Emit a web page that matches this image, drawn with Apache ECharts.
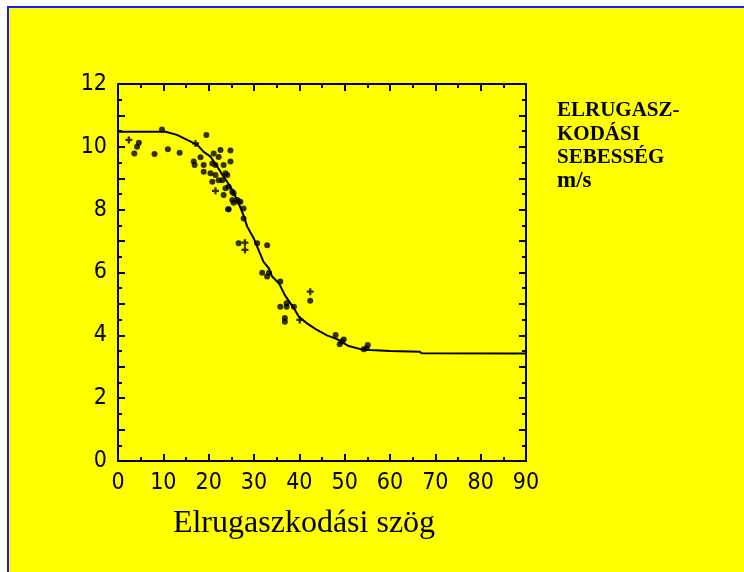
<!DOCTYPE html>
<html>
<head>
<meta charset="utf-8">
<script src="https://cdn.jsdelivr.net/npm/echarts@6/dist/echarts.min.js"></script>
<style>html,body{margin:0;padding:0;background:#fff}#c{width:744px;height:572px}</style>
</head>
<body>
<div id="c"></div>
<script>
// Fitted curve
var curveX = [0, 10.5, 13.0, 15.6, 17.5, 18.9, 20.4, 21.9, 23.3, 24.8, 26.3, 27.6, 28.5, 29.9, 31.0, 32.1, 33.3, 34.0, 35.5, 36.8, 38.8, 39.9, 41.7, 43.9, 46.1, 48.3, 50.9, 53.5, 55.7, 60, 66.5, 67, 90];
var curveY = [10.48, 10.48, 10.38, 10.2, 10.06, 9.84, 9.69, 9.37, 9.05, 8.73, 8.31, 7.85, 7.46, 7.1, 6.72, 6.34, 6.13, 5.87, 5.66, 5.28, 4.86, 4.59, 4.38, 4.17, 4.0, 3.88, 3.66, 3.56, 3.53, 3.5, 3.48, 3.43, 3.42];
// Measured points (dots)
var dotX = [3.6, 4.2, 4.6, 8.05, 9.7, 11.0, 13.6, 19.5, 16.7, 18.2, 16.9, 18.9, 21.1, 22.6, 24.8, 24.8, 23.3, 21.5, 20.8, 22.2, 20.4, 21.5, 23.7, 24.1, 20.8, 22.2, 23.0, 23.7, 24.4, 23.3, 25.2, 25.5, 25.2, 26.3, 27.0, 27.7, 24.4, 27.7, 26.6, 25.5, 24.3, 26.6, 30.7, 32.9, 31.8, 32.9, 33.3, 35.8, 35.8, 37.2, 37.2, 38.8, 36.8, 36.8, 42.4, 48.0, 48.9, 49.8, 49.4, 55.1, 54.8, 54.2, 18.9];
var dotY = [9.79, 10.0, 10.13, 9.77, 10.55, 9.92, 9.81, 10.38, 9.53, 9.67, 9.42, 9.42, 9.79, 9.9, 9.88, 9.53, 9.42, 9.42, 9.47, 9.68, 9.16, 9.1, 9.16, 9.1, 8.89, 8.94, 8.94, 8.68, 8.73, 8.47, 8.57, 8.52, 8.31, 8.31, 8.25, 8.04, 8.01, 7.72, 8.25, 8.22, 8.01, 6.93, 6.93, 6.87, 5.99, 5.87, 5.99, 5.71, 4.91, 5.02, 4.91, 4.91, 4.55, 4.43, 5.1, 4.01, 3.72, 3.87, 3.8, 3.69, 3.59, 3.56, 9.21];
// Measured points (crosses)
var crossX = [2.4, 17.1, 21.5, 28.0, 28.0, 42.4, 40.1];
var crossY = [10.22, 10.11, 8.6, 6.95, 6.72, 5.39, 4.49];
// Tick labels
var xTicks = [0, 10, 20, 30, 40, 50, 60, 70, 80, 90];
var yTicks = [0, 2, 4, 6, 8, 10, 12];
var xTitle = 'Elrugaszkodási szög';
var yTitleLines = ['ELRUGASZ-', 'KODÁSI', 'SEBESSÉG'];
var yUnit = 'm/s';

function zip(a, b) { return a.map(function (v, i) { return [v, b[i]]; }); }

var tickFont = "'Liberation Sans Narrow','Arial Narrow','DejaVu Sans Condensed',sans-serif";
var axisCommon = {
  type: 'value',
  axisLine: { show: true, onZero: false, lineStyle: { color: '#000', width: 2 } },
  axisTick: { show: true, inside: true, length: 7, lineStyle: { color: '#000', width: 2 } },
  minorTick: { show: true, splitNumber: 2, length: 4, lineStyle: { color: '#000', width: 2 } },
  splitLine: { show: false },
  minorSplitLine: { show: false }
};
function ax(extra) { return Object.assign({}, JSON.parse(JSON.stringify(axisCommon)), extra); }

var chart = echarts.init(document.getElementById('c'), null, { renderer: 'canvas' });
var option = {
  backgroundColor: '#ffffff',
  animation: false,
  graphic: {
    elements: [
      { type: 'rect', z: -100, shape: { x: 7, y: 6, width: 737, height: 566 }, style: { fill: '#1a1aff' } },
      { type: 'rect', z: -99, shape: { x: 9, y: 8, width: 735, height: 564 }, style: { fill: '#ffff00' } },
      { type: 'text', x: 304, y: 524, style: { text: xTitle, font: "32px 'Liberation Serif','Times New Roman',serif", fill: '#000', align: 'center', verticalAlign: 'middle' } },
      { type: 'text', x: 557, y: 111, style: { text: yTitleLines[0], font: "bold 21px 'Liberation Serif','Times New Roman',serif", fill: '#000', align: 'left', verticalAlign: 'middle' } },
      { type: 'text', x: 557, y: 134.5, style: { text: yTitleLines[1], font: "bold 21px 'Liberation Serif','Times New Roman',serif", fill: '#000', align: 'left', verticalAlign: 'middle' } },
      { type: 'text', x: 557, y: 158, style: { text: yTitleLines[2], font: "bold 21px 'Liberation Serif','Times New Roman',serif", fill: '#000', align: 'left', verticalAlign: 'middle' } },
      { type: 'text', x: 557, y: 181, style: { text: yUnit, font: "bold 23px 'Liberation Serif','Times New Roman',serif", fill: '#000', align: 'left', verticalAlign: 'middle' } }
    ]
  },
  grid: { left: 118, right: 218, top: 84, bottom: 111, containLabel: false, show: false },
  xAxis: [
    ax({ position: 'bottom', min: 0, max: 90, interval: 10,
      axisLabel: { show: true, color: '#000', fontSize: 23, fontFamily: tickFont, margin: 11,
        formatter: function (v) { return xTicks.indexOf(v) >= 0 ? String(v) : ''; } } }),
    ax({ position: 'top', min: 0, max: 90, interval: 10, axisLabel: { show: false } })
  ],
  yAxis: [
    ax({ position: 'left', min: 0, max: 12, interval: 1,
      axisLabel: { show: true, color: '#000', fontSize: 23, fontFamily: tickFont, margin: 11,
        formatter: function (v) { return yTicks.indexOf(v) >= 0 ? String(v) : ''; } } }),
    ax({ position: 'right', min: 0, max: 12, interval: 1, axisLabel: { show: false } })
  ],
  series: [
    { type: 'line', xAxisIndex: 0, yAxisIndex: 0, data: zip(curveX, curveY), showSymbol: false, symbol: 'none',
      lineStyle: { color: '#000', width: 2 }, z: 3 },
    { type: 'scatter', xAxisIndex: 0, yAxisIndex: 0, data: zip(dotX, dotY), symbol: 'circle', symbolSize: 6,
      itemStyle: { color: '#000' }, z: 4 },
    { type: 'scatter', xAxisIndex: 0, yAxisIndex: 0, data: zip(crossX, crossY),
      symbol: 'path://M2,0H4V2H6V4H4V6H2V4H0V2H2Z', symbolSize: 7, itemStyle: { color: '#000' }, z: 4 }
  ]
};
chart.setOption(option);
</script>
</body>
</html>
